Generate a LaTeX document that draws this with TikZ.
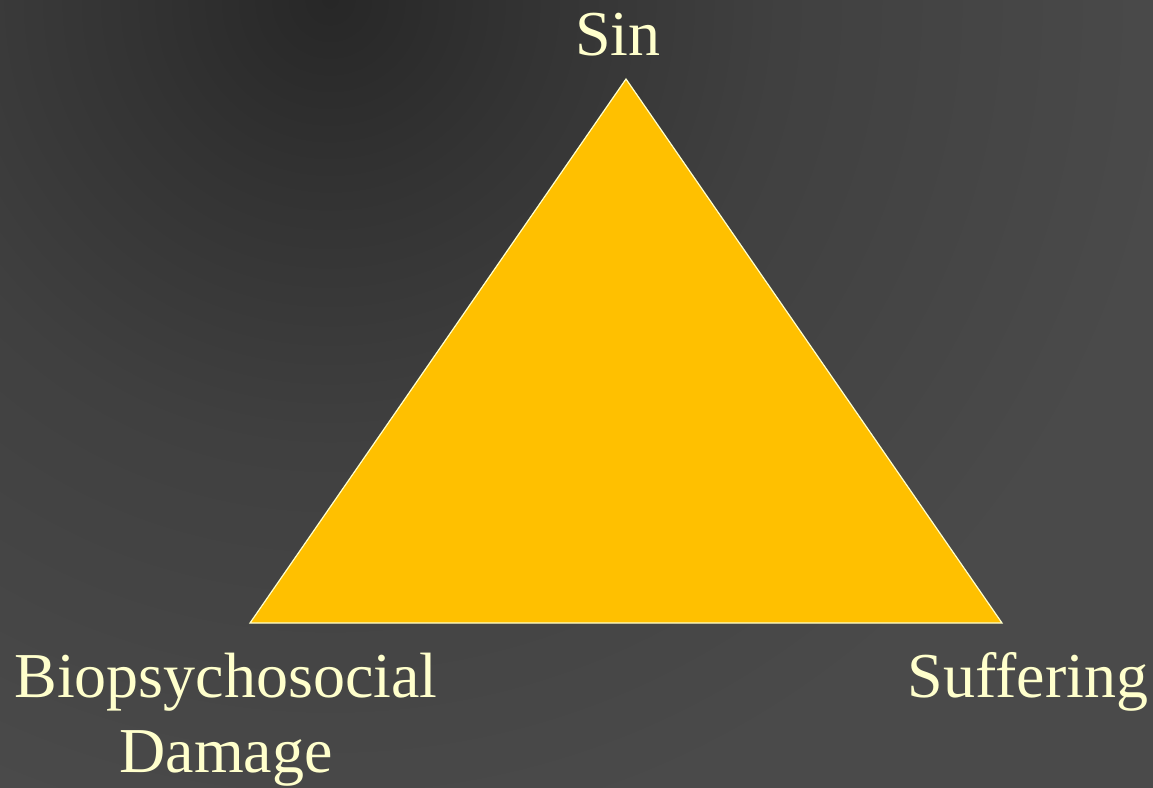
\documentclass[tikz,border=0pt]{standalone}
\usepackage{fontspec}
\setmainfont{Liberation Serif}
\definecolor{bgin}{HTML}{272727}
\definecolor{bgmid}{HTML}{333333}
\definecolor{bgmid2}{HTML}{404040}
\definecolor{bgout}{HTML}{4A4A4A}
\definecolor{txt}{HTML}{FFFFCC}
\definecolor{tri}{HTML}{FFC000}
\pgfdeclareradialshading{bgshade}{\pgfpoint{0bp}{0bp}}{color(0bp)=(bgin); color(8.33bp)=(bgmid); color(18.75bp)=(bgmid2); color(35.4bp)=(bgout); color(50bp)=(bgout)}
\begin{document}
\begin{tikzpicture}[x=1pt,y=-1pt,
  lbl/.style={text=txt, inner sep=0pt, font=\fontsize{64}{75}\selectfont, align=center},
  tristyle/.style={fill=tri, draw=txt, line width=1.2pt, line join=miter}]
  \useasboundingbox (0,0) rectangle (1153,787);
  \fill[bgout] (0,0) rectangle (1153,787);
  \begin{scope}
    \clip (0,0) rectangle (1153,787);
    \begin{pgfscope}
      \pgftransformshift{\pgfpoint{330pt}{0pt}}
      \pgftransformscale{24}
      \pgflowlevelsynccm
      \pgfuseshading{bgshade}
    \end{pgfscope}
  \end{scope}
  \coordinate (top) at (626,79);
  \coordinate (bl) at (250,623);
  \coordinate (br) at (1002,623);
  \draw[tristyle] (top) -- (br) -- (bl) -- cycle;
  \node[lbl, anchor=base] (sin) at (618,55) {Sin};
  \node[lbl, anchor=base] (bio) at (226,772) {Biopsychosocial\\Damage};
  \node[lbl, anchor=base] (suf) at (1028,697) {Suffering};
\end{tikzpicture}
\end{document}
